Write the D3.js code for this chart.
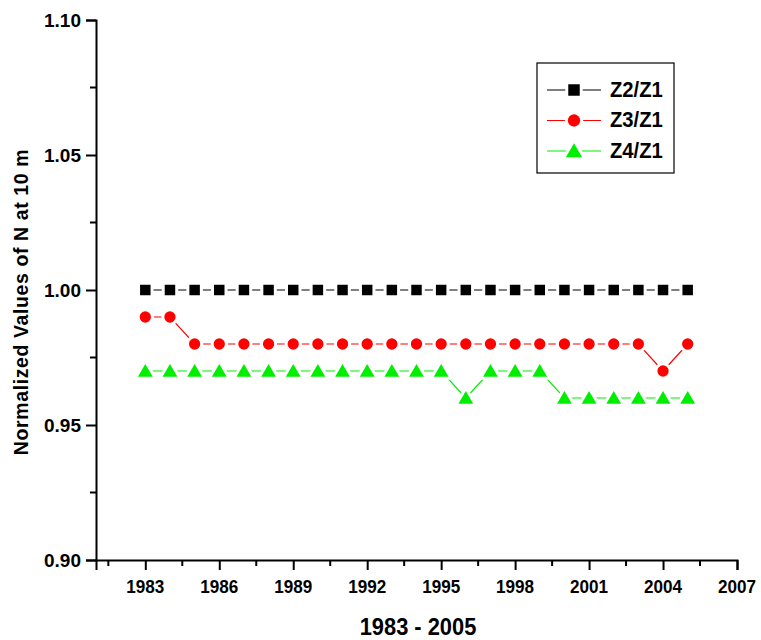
<!DOCTYPE html>
<html>
<head>
<meta charset="utf-8">
<script src="https://cdn.jsdelivr.net/npm/d3@7"></script>
<style>
  body { margin: 0; background: #fff; }
  svg { display: block; font-family: "Liberation Sans", Arial, sans-serif; font-weight: bold; }
</style>
</head>
<body>
<svg width="761" height="640"></svg>
<script>
// Data
const years = d3.range(1983, 2006);
const z2z1 = [1.00, 1.00, 1.00, 1.00, 1.00, 1.00, 1.00, 1.00, 1.00, 1.00, 1.00, 1.00,
  1.00, 1.00, 1.00, 1.00, 1.00, 1.00, 1.00, 1.00, 1.00, 1.00, 1.00];
const z3z1 = [0.99, 0.99, 0.98, 0.98, 0.98, 0.98, 0.98, 0.98, 0.98, 0.98, 0.98, 0.98,
  0.98, 0.98, 0.98, 0.98, 0.98, 0.98, 0.98, 0.98, 0.98, 0.97, 0.98];
const z4z1 = [0.97, 0.97, 0.97, 0.97, 0.97, 0.97, 0.97, 0.97, 0.97, 0.97, 0.97, 0.97,
  0.97, 0.96, 0.97, 0.97, 0.97, 0.96, 0.96, 0.96, 0.96, 0.96, 0.96];
const xTicks = [1983, 1986, 1989, 1992, 1995, 1998, 2001, 2004, 2007];
const yTicks = [0.90, 0.95, 1.00, 1.05, 1.10];

const seriesList = [
  { name: "Z2/Z1", values: z2z1, color: "#000000", symbol: d3.symbolSquare, size: 110 },
  { name: "Z3/Z1", values: z3z1, color: "#ff0000", symbol: d3.symbolCircle, size: 100 },
  { name: "Z4/Z1", values: z4z1, color: "#00ee00", symbol: d3.symbolTriangle, size: 95 }
];

const svg = d3.select("svg");

const x = d3.scaleLinear().domain([1981, 2007]).range([96, 737]);
const y = d3.scaleLinear().domain([0.90, 1.10]).range([560, 20]);

// text squeezed horizontally, like the narrow font of the original
function label(g, px, py, str, size, sx, anchor) {
  return g.append("text")
    .attr("transform", `translate(${px},${py}) scale(${sx},1)`)
    .attr("text-anchor", anchor || "start")
    .style("font-size", size + "px")
    .attr("fill", "#000")
    .text(str);
}

// Axes (labels drawn by hand below)
const xAxis = d3.axisBottom(x)
  .tickValues(xTicks)
  .tickFormat("")
  .tickSizeOuter(0)
  .tickSize(10);

const xg = svg.append("g").attr("transform", "translate(0,560)").call(xAxis);

const yAxis = d3.axisLeft(y)
  .tickValues(yTicks)
  .tickFormat("")
  .tickSizeOuter(0)
  .tickSize(10);

const yg = svg.append("g").attr("transform", "translate(96,0)").call(yAxis);

// Minor ticks
const xMinor = d3.range(1981.5, 2007, 3);
xg.selectAll(".minor").data(xMinor).enter()
  .append("line")
  .attr("x1", d => x(d)).attr("x2", d => x(d))
  .attr("y1", 0).attr("y2", 6)
  .attr("stroke", "#000").attr("stroke-width", 2);

const yMinor = [0.925, 0.975, 1.025, 1.075];
yg.selectAll(".minor").data(yMinor).enter()
  .append("line")
  .attr("y1", d => y(d)).attr("y2", d => y(d))
  .attr("x1", 0).attr("x2", -6)
  .attr("stroke", "#000").attr("stroke-width", 2);

[xg, yg].forEach(g => {
  g.select(".domain").attr("stroke", "#000").attr("stroke-width", 2);
  g.selectAll(".tick line").attr("stroke", "#000").attr("stroke-width", 2);
});

xTicks.forEach(t => label(svg, x(t), 593, d3.format("d")(t), 19, 0.9, "middle"));
yTicks.forEach(t => label(svg, 81, y(t) + 7, d3.format(".2f")(t), 19, 1.0, "end"));

// Axis titles
label(svg, 418, 635, "1983 - 2005", 23.5, 0.93, "middle");

svg.append("text")
  .attr("transform", "translate(28,302) rotate(-90)")
  .attr("text-anchor", "middle")
  .style("font-size", "19.5px")
  .style("letter-spacing", "0.6px")
  .text("Normalized Values of N at 10 m");

// Series
const line = d3.line().x(d => x(d[0])).y(d => y(d[1]));

seriesList.forEach(s => {
  const pts = years.map((yr, i) => [yr, s.values[i]]);
  svg.append("path")
    .datum(pts)
    .attr("d", line)
    .attr("fill", "none")
    .attr("stroke", s.color)
    .attr("stroke-width", 1.2);

  svg.selectAll(null).data(pts).enter()
    .append("path")
    .attr("d", d3.symbol().type(s.symbol).size(s.size))
    .attr("transform", d => `translate(${x(d[0])},${y(d[1]) + (s.symbol === d3.symbolTriangle ? 1.5 : 0)})`)
    .attr("fill", s.color)
    .attr("stroke", "#fff")
    .attr("stroke-width", 6)
    .attr("paint-order", "stroke");
});

// Legend
const legend = svg.append("g");
legend.append("rect")
  .attr("x", 537).attr("y", 63)
  .attr("width", 137).attr("height", 110)
  .attr("fill", "#fff").attr("stroke", "#000").attr("stroke-width", 1.2);

seriesList.forEach((s, i) => {
  const ly = 90 + i * 30.5;
  legend.append("line")
    .attr("x1", 547).attr("x2", 601)
    .attr("y1", ly).attr("y2", ly)
    .attr("stroke", s.color).attr("stroke-width", 1.2);
  legend.append("path")
    .attr("d", d3.symbol().type(s.symbol).size(s.size * 1.2))
    .attr("transform", `translate(574,${ly + (s.symbol === d3.symbolTriangle ? 1.5 : 0)})`)
    .attr("fill", s.color)
    .attr("stroke", "#fff")
    .attr("stroke-width", 6)
    .attr("paint-order", "stroke");
  label(legend, 610, ly + 6.5, s.name, 22, 0.92, "start");
});
</script>
</body>
</html>
